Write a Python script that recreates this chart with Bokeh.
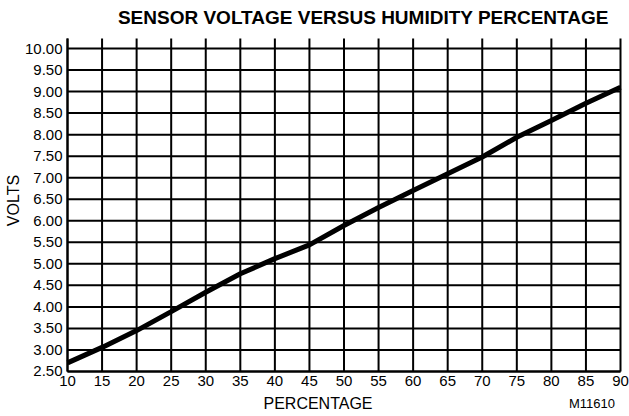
import math
from bokeh.plotting import figure
from bokeh.models import Range1d, FixedTicker, NumeralTickFormatter, Label
from bokeh.embed import file_html
from bokeh.resources import INLINE

# ---- data ----
percent = [10, 15, 20, 25, 30, 35, 40, 45, 50, 55, 60, 65, 70, 75, 80, 85, 90]
volts = [2.70, 3.06, 3.45, 3.89, 4.34, 4.77, 5.12, 5.44, 5.89, 6.31, 6.70,
         7.09, 7.48, 7.94, 8.33, 8.73, 9.10]
x_ticks = [10, 15, 20, 25, 30, 35, 40, 45, 50, 55, 60, 65, 70, 75, 80, 85, 90]
y_ticks = [2.5, 3.0, 3.5, 4.0, 4.5, 5.0, 5.5, 6.0, 6.5, 7.0, 7.5, 8.0, 8.5,
           9.0, 9.5, 10.0]

title_text = "SENSOR VOLTAGE VERSUS HUMIDITY PERCENTAGE"
x_label = "PERCENTAGE"
y_label = "VOLTS"
code_label = "M11610"

FONT = "Liberation Sans"

# plot region: x 10..90 and y 2.5..10 ; the frame covers the whole canvas
X0, X1 = 10, 90
Y0, Y1 = 2.5, 10.0
Y_TOP = 10.232          # vertical rules run a little above the 10.00 line

p = figure(width=629, height=416, output_backend="svg", toolbar_location=None,
           x_range=Range1d(0.307, 91.302), y_range=Range1d(1.4551, 11.1146),
           min_border=0, title=None,
           background_fill_color="white", border_fill_color="white")
p.outline_line_color = None
p.grid.visible = False

# grid rules (drawn from the tick lists)
vx = x_ticks
p.segment(x0=vx, x1=vx, y0=[Y0] * len(vx), y1=[Y_TOP] * len(vx),
          line_color="black", line_width=2)
p.segment(x0=[X0] * len(y_ticks), x1=[X1] * len(y_ticks), y0=y_ticks, y1=y_ticks,
          line_color="black", line_width=2)

# data line
p.line(percent, volts, line_width=5, line_color="black")

# axes placed at fixed data locations
for ax in (p.xaxis, p.yaxis):
    ax.major_tick_out = 0
    ax.major_tick_in = 0
    ax.minor_tick_out = 0
    ax.minor_tick_in = 0
    ax.axis_line_width = 2
    ax.axis_line_color = "black"
    ax.major_label_text_font = FONT
    ax.major_label_text_font_size = "15px"
    ax.major_label_text_color = "black"

p.xaxis.fixed_location = Y0
p.xaxis.bounds = (X0, X1)
p.xaxis.ticker = FixedTicker(ticks=x_ticks)
p.xaxis.major_label_standoff = 5

p.yaxis.fixed_location = X0
p.yaxis.bounds = (Y0, Y_TOP)
p.yaxis.ticker = FixedTicker(ticks=y_ticks)
p.yaxis.formatter = NumeralTickFormatter(format="0.00")
p.yaxis.major_label_standoff = 5

# texts
p.add_layout(Label(x=52.8, y=10.72, text=title_text, text_font=FONT,
                   text_font_size="19px", text_font_style="bold",
                   text_align="center", text_baseline="middle",
                   text_color="black"))
p.add_layout(Label(x=2.19, y=6.47, text=y_label, text_font=FONT,
                   text_font_size="16px", angle=math.pi / 2,
                   text_align="center", text_baseline="middle",
                   text_color="black"))
p.add_layout(Label(x=46.24, y=1.75, text=x_label, text_font=FONT,
                   text_font_size="16px", text_align="center",
                   text_baseline="middle", text_color="black"))
p.add_layout(Label(x=89.2, y=1.75, text=code_label, text_font=FONT,
                   text_font_size="13px", text_align="right",
                   text_baseline="middle", text_color="black"))

open("out.html", "w").write(file_html(p, INLINE))
